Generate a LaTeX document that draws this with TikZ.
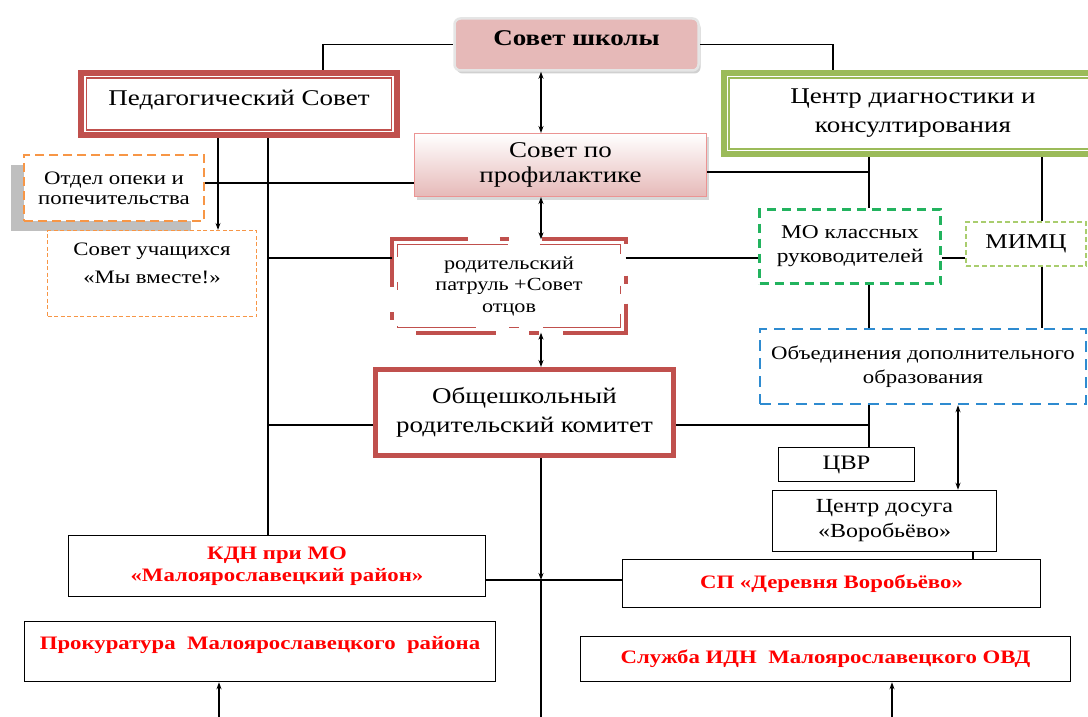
\documentclass[tikz,border=0pt]{standalone}
\usepackage{fontspec}
\setmainfont[FakeStretch=1.2]{Liberation Serif}
\usetikzlibrary{arrows.meta,shadows}

\definecolor{pedred}{HTML}{C0504D}
\definecolor{schoolpink}{HTML}{E6B9B8}
\definecolor{diaggreen}{HTML}{9BBB59}
\definecolor{mogreen}{HTML}{22B35E}
\definecolor{mimcgreen}{HTML}{A9CD6E}
\definecolor{obblue}{HTML}{2E8BD0}
\definecolor{opeka}{HTML}{F79646}
\definecolor{alertred}{HTML}{FF0000}

\tikzset{
  bigfont/.style={font=\fontsize{22.5}{29}\selectfont},
  midfont/.style={font=\fontsize{19.5}{24}\selectfont},
  box/.style={align=center, inner sep=2pt},
  plainbox/.style={box, draw, line width=1.5pt, midfont},
  alertbox/.style={plainbox, text=alertred, font=\fontsize{19}{22}\selectfont\bfseries},
  schoolbox/.style={box, rounded corners=6pt, fill=schoolpink, draw=gray!20,
    line width=2.5pt, font=\fontsize{22.5}{24}\selectfont\bfseries, text depth=13pt,
    drop shadow={shadow xshift=2pt, shadow yshift=-3pt, fill=gray!60, opacity=.6}},
  profbox/.style={box, top color=white, bottom color=schoolpink, draw=schoolpink!80!red,
    line width=1pt, font=\fontsize{22.5}{25}\selectfont,
    drop shadow={shadow xshift=2pt, shadow yshift=-3pt, fill=gray!60, opacity=.5}},
  pedbox/.style={box, draw=pedred, line width=6pt, bigfont},
  diagbox/.style={box, draw=diaggreen, line width=6pt, bigfont},
  commbox/.style={box, draw=pedred, line width=5pt, bigfont},
  innerline/.style={line width=1.3pt},
  otdelbox/.style={box, draw=opeka, line width=2.5pt, dash pattern=on 9pt off 5pt,
    fill=white, font=\fontsize{19}{20}\selectfont,
    drop shadow={shadow xshift=-13pt, shadow yshift=-10pt, fill=gray!50, opacity=1}},
  studbox/.style={box, draw=opeka, line width=1.2pt, dash pattern=on 4pt off 2.5pt,
    font=\fontsize{19}{28}\selectfont},
  mobox/.style={box, draw=mogreen, line width=2.8pt, dash pattern=on 9pt off 6pt, midfont},
  mimcbox/.style={box, draw=mimcgreen, line width=1.5pt, dash pattern=on 5pt off 3pt,
    font=\fontsize{21}{24}\selectfont},
  obbox/.style={box, draw=obblue, line width=2.5pt, dash pattern=on 11pt off 7pt,
    font=\fontsize{19}{24}\selectfont},
  patrolline/.style={draw=pedred, dash pattern=on 83pt off 32pt on 8pt off 20pt on 92pt off 24pt
    on 10pt off 33pt on 80pt off 36pt on 8pt off 25pt on 123pt off 32pt on 9pt off 33pt}
}

\begin{document}
\begin{tikzpicture}[x=1pt, y=-1pt, line width=1.3pt, >={Stealth[length=7pt, width=5pt]}]
  \path[use as bounding box, fill=white] (0,0) rectangle (1088,717);

  % top row
  \node[schoolbox, minimum width=244pt, minimum height=52pt] (school) at (576.5,44.5) {Совет школы};
  \node[pedbox, minimum width=316pt, minimum height=62pt, text depth=13pt] (ped) at (239,104) {Педагогический Совет};
  \draw[innerline, pedred] ([shift={(8.5pt,-8pt)}]ped.north west) rectangle ([shift={(-8.5pt,8pt)}]ped.south east);
  \node[diagbox, minimum width=378pt, minimum height=81pt] (diag) at (913,113.5) {Центр диагностики и\\консултирования};
  \draw[innerline, diaggreen] ([shift={(8pt,-8pt)}]diag.north west) rectangle ([shift={(-8pt,8pt)}]diag.south east);
  \node[profbox, minimum width=292pt, minimum height=63pt] (prof) at (560.5,165) {Совет по\\профилактике};

  % left side
  \node[otdelbox, minimum width=180pt, minimum height=66pt] (otdel) at (114,188) {Отдел опеки и\\попечительства};
  \node[studbox, minimum width=209pt, minimum height=86pt] (stud) at (152,273.5) {Совет учащихся\\«Мы вместе!»\\[-16pt]\strut};

  % centre
  \node[box, minimum width=232pt, minimum height=92pt, font=\fontsize{18.5}{21.5}\selectfont] (patrol) at (509,286) {родительский\\патруль +Совет\\отцов};
  \draw[patrolline, line width=4pt] ([xshift=38pt]patrol.north) -| (patrol.south east) -| (patrol.north west) -- cycle;
  \draw[patrolline, line width=1.2pt] ([xshift=38pt, yshift=-5pt]patrol.north) -| ([shift={(-5pt,5pt)}]patrol.south east)
    -| ([shift={(5pt,-5pt)}]patrol.north west) -- cycle;
  \node[commbox, minimum width=298pt, minimum height=86pt] (comm) at (524.5,412.5) {Общешкольный\\родительский комитет};

  % right side
  \node[mobox, minimum width=181pt, minimum height=74pt] (mo) at (850,246.5) {МО классных\\руководителей};
  \node[mimcbox, minimum width=120pt, minimum height=44pt] (mimc) at (1026,244) {МИМЦ};
  \node[obbox, minimum width=326pt, minimum height=75pt] (ob) at (923,366.5) {Объединения дополнительного\\образования};
  \node[plainbox, minimum width=136pt, minimum height=34pt, font=\fontsize{20.5}{24}\selectfont] (cvr) at (846.5,464.5) {ЦВР};
  \node[plainbox, minimum width=224pt, minimum height=61pt, font=\fontsize{20}{25}\selectfont] (leisure) at (884.5,521) {Центр досуга\\«Воробьёво»};

  % bottom
  \node[alertbox, minimum width=417pt, minimum height=61pt] (kdn) at (277,566) {КДН при МО\\«Малоярославецкий район»};
  \node[alertbox, minimum width=418pt, minimum height=48pt] (sp) at (831.5,583.5) {СП «Деревня Воробьёво»};
  \node[alertbox, minimum width=471pt, minimum height=60pt, text height=13pt, text depth=18pt] (prok) at (260,651.5) {Прокуратура~~Малоярославецкого~~района};
  \node[alertbox, minimum width=490pt, minimum height=45pt] (idn) at (825.5,659) {Служба ИДН~~Малоярославецкого ОВД};

  % grid of connector lines
  \coordinate (pedlink) at (323,0);
  \coordinate (diaglink) at (833,0);
  \coordinate (spine) at (541,717);
  \coordinate (pedcol) at (268,0);
  \coordinate (studcol) at (218,0);
  \coordinate (mocol) at (869,0);
  \coordinate (mimccol) at (1042,0);
  \coordinate (leisurecol) at (958,0);
  \coordinate (spcol) at (973,0);
  \coordinate (prokcol) at (219,717);
  \coordinate (idncol) at (892,717);
  \coordinate (otdelrow) at (0,183);
  \coordinate (profrow) at (0,172);
  \coordinate (patrolrow) at (0,258);
  \coordinate (commrow) at (0,425);
  \coordinate (kdnrow) at (0,580);

  \draw (ped.north -| pedlink) |- (school.west);
  \draw (school.east) -| (diag.north -| diaglink);
  \draw[<->] (school.south -| spine) -- (prof.north -| spine);
  \draw[<->] (prof.south -| spine) -- (patrol.north -| spine);
  \draw[<->] (patrol.south -| spine) -- (comm.north -| spine);
  \draw[->] (comm.south -| spine) -- (kdnrow -| spine);
  \draw (kdnrow -| spine) -- (spine);
  \draw (otdel.east |- otdelrow) -- (prof.west |- otdelrow);
  \draw (prof.east |- profrow) -- (profrow -| mocol);
  \draw (diag.south -| mocol) -- (mo.north -| mocol);
  \draw (diag.south -| mimccol) -- (mimc.north -| mimccol);
  \draw (mo.south -| mocol) -- (ob.north -| mocol);
  \draw (mimc.south -| mimccol) -- (ob.north -| mimccol);
  \draw[->] (ped.south -| studcol) -- (stud.north -| studcol);
  \draw (ped.south -| pedcol) -- (kdn.north -| pedcol);
  \draw (pedcol |- patrolrow) -- (patrol.west |- patrolrow);
  \draw (patrol.east |- patrolrow) -- (mo.west |- patrolrow);
  \draw (mo.east |- patrolrow) -- (mimc.west |- patrolrow);
  \draw (pedcol |- commrow) -- (comm.west |- commrow);
  \draw (comm.east |- commrow) -| (ob.south -| mocol);
  \draw (commrow -| mocol) -- (cvr.north -| mocol);
  \draw[<->] (ob.south -| leisurecol) -- (leisure.north -| leisurecol);
  \draw (leisure.south -| spcol) -- (sp.north -| spcol);
  \draw (kdn.east |- kdnrow) -- (sp.west |- kdnrow);
  \draw[->] (prokcol) -- (prok.south -| prokcol);
  \draw[->] (idncol) -- (idn.south -| idncol);
\end{tikzpicture}
\end{document}
